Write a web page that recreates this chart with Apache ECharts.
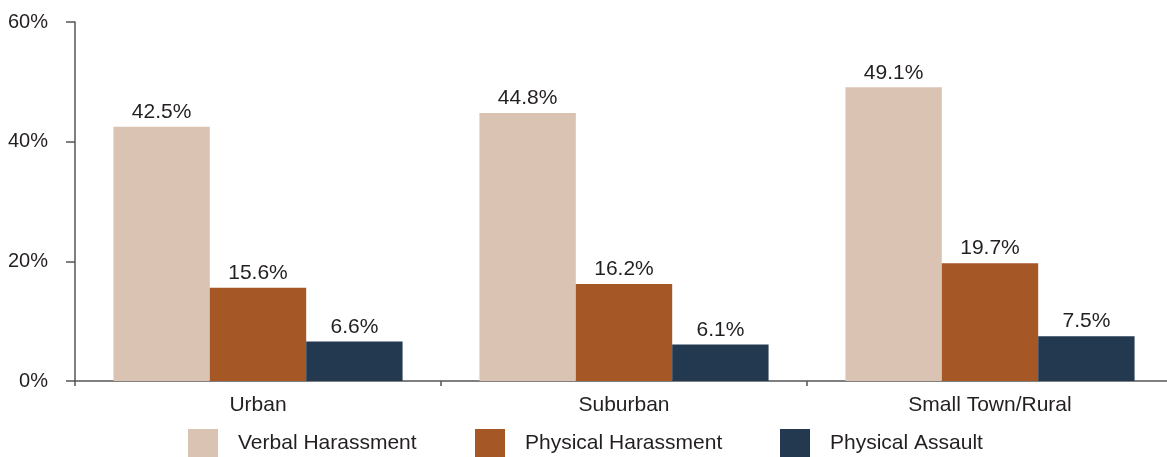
<!DOCTYPE html>
<html>
<head>
<meta charset="utf-8">
<script src="https://cdn.jsdelivr.net/npm/echarts@6/dist/echarts.min.js"></script>
<style>
  html, body { margin: 0; padding: 0; background: #fff; overflow: hidden; }
  #chart { width: 1173px; height: 457px; }
</style>
</head>
<body>
<div id="chart"></div>
<script>
const categories = ['Urban', 'Suburban', 'Small Town/Rural'];
const seriesNames = ['Verbal Harassment', 'Physical Harassment', 'Physical Assault'];
const verbalHarassment = [42.5, 44.8, 49.1];
const physicalHarassment = [15.6, 16.2, 19.7];
const physicalAssault = [6.6, 6.1, 7.5];
const yTicks = [0, 20, 40, 60];

const colors = ['#dbc3b3', '#a65726', '#233950'];
const textColor = '#231f20';
const font = 'Liberation Sans, Arial, Helvetica, sans-serif';
const values = [verbalHarassment, physicalHarassment, physicalAssault];

const chart = echarts.init(document.getElementById('chart'));

// one legend block per series so each swatch sits at its own x position
const legendLefts = [188, 475, 780];
const legends = seriesNames.map((name, i) => ({
  data: [name],
  left: legendLefts[i],
  top: 429,
  padding: 0,
  itemWidth: 30,
  itemHeight: 28,
  itemGap: 0,
  icon: 'rect',
  selectedMode: false,
  textStyle: { color: textColor, fontSize: 21, fontFamily: font, padding: [0, 0, 0, 15] }
}));

chart.setOption({
  animation: false,
  color: colors,
  legend: legends,
  grid: { left: 75, top: 22, right: 0, bottom: 76, containLabel: false },
  xAxis: {
    type: 'category',
    data: categories,
    axisLine: { lineStyle: { color: '#555', width: 1.5 } },
    axisTick: { show: true, length: 5, lineStyle: { color: '#555', width: 1.5 } },
    axisLabel: { color: textColor, fontSize: 21, fontFamily: font, margin: 14 }
  },
  yAxis: {
    type: 'value',
    min: yTicks[0],
    max: yTicks[yTicks.length - 1],
    interval: 20,
    splitLine: { show: false },
    axisLine: { show: true, lineStyle: { color: '#555', width: 1.5 } },
    axisTick: { show: true, length: 9, lineStyle: { color: '#555', width: 1.5 } },
    axisLabel: { color: textColor, fontSize: 20, fontFamily: font, margin: 27, formatter: '{value}%' }
  },
  series: seriesNames.map((name, i) => ({
    name,
    type: 'bar',
    data: values[i],
    barGap: 0,
    barCategoryGap: '21%',
    label: {
      show: true,
      position: 'top',
      distance: 4,
      color: textColor,
      fontSize: 21,
      fontFamily: font,
      formatter: p => p.value.toFixed(1) + '%'
    }
  }))
});
</script>
</body>
</html>
